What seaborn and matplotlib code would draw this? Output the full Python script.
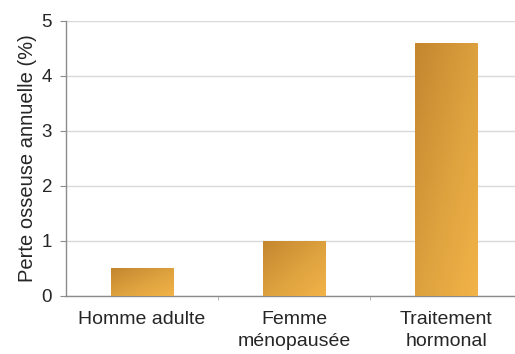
import numpy as np
import matplotlib
matplotlib.use('Agg')
import matplotlib.pyplot as plt
import seaborn as sns
from matplotlib.colors import LinearSegmentedColormap

# Data
categories = ['Homme adulte', 'Femme\nménopausée', 'Traitement\nhormonal']
bone_loss = [0.5, 1.0, 4.6]

sns.set_style('white')
plt.rcParams['font.family'] = ['Liberation Sans', 'DejaVu Sans']

fig = plt.figure(figsize=(5.15, 3.54), dpi=100)
ax = fig.add_axes([0.128, 0.164, 0.872, 0.777])

sns.barplot(x=categories, y=bone_loss, color='#E0A040', width=0.41, ax=ax, zorder=2)

# Gradient fill clipped to each bar (dark top-left -> light bottom-right)
cmap = LinearSegmentedColormap.from_list('bar_grad', ['#C4862E', '#DCA03E', '#F2B448'])
gx, gy = np.meshgrid(np.linspace(0, 1, 60), np.linspace(0, 1, 60))
grad = (gx + gy) / 2
for patch in ax.patches:
    x0, y0 = patch.get_x(), patch.get_y()
    w, h = patch.get_width(), patch.get_height()
    im = ax.imshow(grad, cmap=cmap, extent=[x0, x0 + w, y0, y0 + h],
                   origin='upper', aspect='auto', zorder=3)
    im.set_clip_path(patch)
    patch.set_edgecolor('none')

ax.set_xlim(-0.5, 2.45)
ax.set_ylim(0, 5)
ax.set_yticks([0, 1, 2, 3, 4, 5])
ax.yaxis.grid(True, color='#D9D9D9', linewidth=1.0, zorder=0)
ax.set_axisbelow(True)

# category ticks between bars
ax.set_xticks([0, 1, 2])
ax.set_xticklabels(categories, fontsize=14, color='#262626', linespacing=1.35)
ax.set_xticks([0.5, 1.5], minor=True)
ax.tick_params(axis='x', which='major', length=0, pad=11)
ax.tick_params(axis='x', which='minor', length=3, color='#A6A6A6', direction='out', bottom=True)
ax.tick_params(axis='y', length=4, color='#8C8C8C', direction='out', left=True,
               labelsize=13.5, labelcolor='#262626', pad=6)

ax.set_ylabel('Perte osseuse annuelle (%)', fontsize=14.5, color='#262626', labelpad=3)

sns.despine(ax=ax, top=True, right=True)
for side in ['left', 'bottom']:
    ax.spines[side].set_color('#8C8C8C')
    ax.spines[side].set_linewidth(1.0)

fig.savefig('out.png', dpi=100)
